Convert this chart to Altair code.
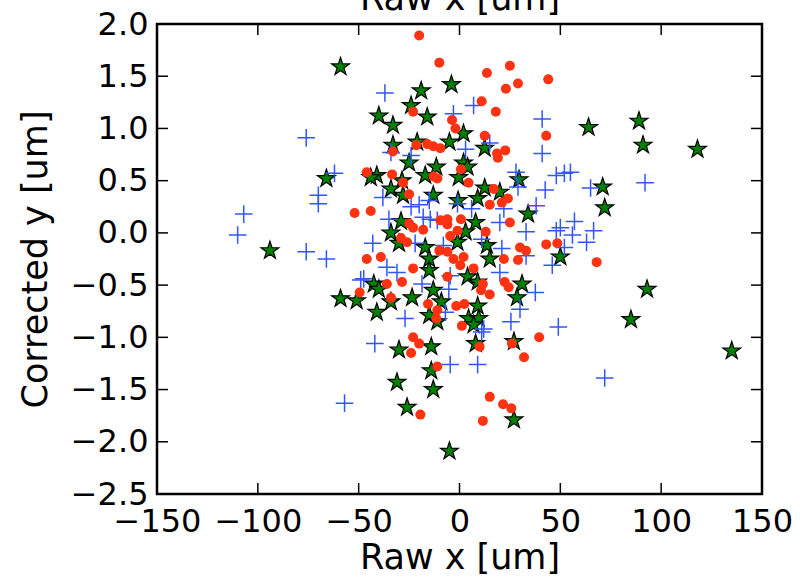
import altair as alt
import pandas as pd

# ---- data ----
star_x = [-59, -66, 64, 89, 91, 118, 71, 72, 50, 93, 85, 135, -94, -59, -51,
          -30, -14, 8, 27, -14, -31, -13, -26, 27, -5, -19, -4, -24, -40, -16,
          -33, 2, 12.5, -5, -21, -33, -25, -11.5, 2, 4, -41, -17, 29.5, -44, -28.5,
          -0.4, -34, -28, -13, -0.7, 9, 12.5, 20, 34, -29, 8, -34, -30, 3, -1,
          13.6, -17, -15, 15, -15, 4, -42.5, -40, 9, 31, 28.5, -34, -23.5, -13, -9,
          9, -41, -15, -11, 4.5, 9.5, 7]
star_y = [1.59, 0.52, 1.01, 1.07, 0.84, 0.80, 0.44, 0.24, -0.23, -0.54, -0.83, -1.13, -0.17, -0.63, -0.65,
          -1.12, -1.09, -1.06, -1.04, -1.32, -1.43, -1.50, -1.67, -1.79, -2.09, 1.36, 1.42, 1.22, 1.12, 1.11,
          1.03, 0.95, 0.81, 0.87, 0.87, 0.84, 0.67, 0.63, 0.67, 0.63, 0.55, 0.55, 0.51, 0.53, 0.50,
          0.53, 0.42, 0.36, 0.36, 0.31, 0.33, 0.43, 0.39, 0.18, 0.11, 0.10, 0.00, -0.10, 0.01, -0.09,
          -0.12, -0.14, -0.25, -0.25, -0.36, -0.42, -0.49, -0.54, -0.47, -0.49, -0.62, -0.66, -0.62, -0.55, -0.66,
          -0.70, -0.76, -0.79, -0.85, -0.82, -0.82, -0.88]

plus_x = [-76, -62, 52, 55, 92, 65, 57, 50, 56, 66.5, 63, 52, 49, 72, -70,
          -70, -107, -110, -76, -66, -49, -57, -42, -4.6, 9, 11, -37, -3, 7, 41,
          15, 3, -34, 41, -24, 28, 48, 29, 42.5, -38, -20, 38, -24, -15, 6,
          22, 20, 33, 48, -43, -35, -22, -18, -14.5, 11, 21, 33, -36, -47.5, -18.6,
          -4.6, 37.6, 46, -27, -7, 12, 25.5, 30, -1, -11, -5.3, 20, -31, -8]
plus_y = [0.91, 0.57, 0.57, 0.58, 0.48, 0.43, 0.11, 0.05, -0.02, 0.02, -0.09, -0.14, -0.90, -1.39, 0.36,
          0.28, 0.18, -0.02, -0.18, -0.25, -0.45, -1.63, -1.06, -1.26, -1.26, -0.95, 1.34, 1.14, 1.22, 1.09,
          0.86, 0.80, 0.77, 0.76, 0.74, 0.58, 0.55, 0.44, 0.41, 0.34, 0.27, 0.26, 0.25, 0.31, 0.23,
          0.23, 0.10, 0.01, 0.02, -0.10, 0.13, -0.10, 0.15, 0.13, -0.06, -0.15, -0.22, -0.33, -0.44, -0.49,
          -0.41, -0.57, -0.31, -0.82, -0.76, -0.92, -0.85, -0.73, 0.28, 0.12, -0.54, -0.38, -0.38, -0.12]

circ_x = [-52, -49.5, -23, -20, -24, 10, 26, 39.5, 32, -11, -19.4, 15, 21.6, 25.7, 11.6,
          -20, -10, 13.6, 25, 29, 23, 44, -23, 11, 18, -3.7, -2, 43, 12.5, -21.4,
          -16, -13, -9.5, -33, 18.6, 22.7, 19, 0.7, -46, -33.4, -12.8, -28, -11, 4.5, -25,
          17, 24, 21, 15, -44, -25, -23, -18, -9.5, -6, -6, 0.7, 13, 25, -29,
          -26, -4.6, -1, -10, -6, 30, 33, 43, 48.5, 22, 29, -46, -39, -3, 2,
          0.4, -23, 7, -6, -36, -28.5, 11.6, 10.7, 15, 22.4, 24.4, -34, -15.6, -11, -1.6,
          2.4, -11.5, 1.2, 68]
circ_y = [0.19, -0.57, -1.00, -1.06, -1.15, -1.09, -1.06, -1.00, -1.19, -1.28, -1.74, -1.57, -1.64, -1.68, -1.80,
          1.89, 1.63, 1.53, 1.60, 1.43, 1.38, 1.47, 1.16, 1.26, 1.16, 1.08, 1.00, 0.93, 0.93, 0.84,
          0.85, 0.83, 0.81, 0.78, 0.76, 0.79, 0.72, 0.61, 0.58, 0.56, 0.54, 0.48, 0.52, 0.48, 0.37,
          0.42, 0.33, 0.29, 0.27, 0.21, 0.09, 0.05, 0.03, 0.12, 0.13, 0.08, 0.13, 0.01, 0.10, -0.05,
          -0.09, -0.03, 0.02, -0.17, -0.18, -0.14, -0.17, -0.11, -0.10, -0.25, -0.26, -0.25, -0.23, -0.25, -0.23,
          -0.31, -0.34, -0.34, -0.42, -0.49, -0.47, -0.49, -0.55, -0.59, -0.47, -0.52, -0.62, -0.68, -0.74, -0.70,
          -0.68, -0.82, -0.89, -0.28]

x_ticks = [-150, -100, -50, 0, 50, 100, 150]
y_ticks = [-2.5, -2.0, -1.5, -1.0, -0.5, 0.0, 0.5, 1.0, 1.5, 2.0]

# ---- styling ----
W, H = 605, 470
FONT = "DejaVu Sans"
TICK_LEN = 11
STAR = ("M0,-1L0.2245,-0.309L0.9511,-0.309L0.3633,0.118L0.5878,0.809L0,0.382"
        "L-0.5878,0.809L-0.3633,0.118L-0.9511,-0.309L-0.2245,-0.309Z")
PLUS = "M-1,0L1,0M0,-1L0,1"

xscale = alt.Scale(domain=[-150, 150], nice=False, zero=False)
yscale = alt.Scale(domain=[-2.5, 2.0], nice=False, zero=False)

xaxis = alt.Axis(
    title="Raw x [um]", values=x_ticks, format="d",
    labelFont=FONT, labelFontSize=32, labelColor="black", labelPadding=27,
    labelBaseline="middle", labelFlush=False, labelOverlap=False,
    ticks=False, domain=False, grid=False,
    titleFont=FONT, titleFontSize=35, titleFontWeight="normal", titleColor="black",
    titleY=63, titleBaseline="middle",
)
yaxis = alt.Axis(
    title="Corrected y [um]", values=y_ticks, format=".1f",
    labelFont=FONT, labelFontSize=32, labelColor="black", labelPadding=9,
    labelAlign="right", labelBaseline="middle", labelFlush=False, labelOverlap=False,
    ticks=False, domain=False, grid=False,
    titleFont=FONT, titleFontSize=35, titleFontWeight="normal", titleColor="black",
    titleX=-122, titleY=H / 2, titleAngle=270, titleAlign="center", titleBaseline="middle",
)
top_axis = alt.Axis(
    orient="top", title="Raw x [um]", labels=False, ticks=False, domain=False, grid=False,
    titleFont=FONT, titleFontSize=35, titleFontWeight="normal", titleColor="black",
    titleY=-15, titleBaseline="alphabetic",
)

df_star = pd.DataFrame({"x": star_x, "y": star_y})
df_plus = pd.DataFrame({"x": plus_x, "y": plus_y})
df_circ = pd.DataFrame({"x": circ_x, "y": circ_y})
df_xt = pd.DataFrame({"v": x_ticks})
df_yt = pd.DataFrame({"v": y_ticks})

stars = alt.Chart(df_star).mark_point(
    shape=STAR, size=350, filled=True, fill="#008000", stroke="black",
    strokeWidth=1.2, opacity=1,
).encode(
    x=alt.X("x:Q", scale=xscale, axis=xaxis),
    y=alt.Y("y:Q", scale=yscale, axis=yaxis),
)

pluses = alt.Chart(df_plus).mark_point(
    shape=PLUS, size=310, filled=False, stroke="#3355ff", strokeWidth=1.5, opacity=1,
).encode(
    x=alt.X("x:Q", scale=xscale, axis=None),
    y=alt.Y("y:Q", scale=yscale, axis=None),
)

circles = alt.Chart(df_circ).mark_circle(size=100, color="#ff3311", opacity=1).encode(
    x=alt.X("x:Q", scale=xscale, axis=None),
    y=alt.Y("y:Q", scale=yscale, axis=None),
)

bottom_ticks = alt.Chart(df_xt).mark_rule(color="black", strokeWidth=1.5).encode(
    x=alt.X("v:Q", scale=xscale, axis=None),
    y=alt.value(H), y2=alt.value(H - TICK_LEN),
)
top_ticks = alt.Chart(df_xt).mark_rule(color="black", strokeWidth=1.5).encode(
    x=alt.X("v:Q", scale=xscale, axis=top_axis),
    y=alt.value(0), y2=alt.value(TICK_LEN),
)
left_ticks = alt.Chart(df_yt).mark_rule(color="black", strokeWidth=1.5).encode(
    y=alt.Y("v:Q", scale=yscale, axis=None),
    x=alt.value(0), x2=alt.value(TICK_LEN),
)
right_ticks = alt.Chart(df_yt).mark_rule(color="black", strokeWidth=1.5).encode(
    y=alt.Y("v:Q", scale=yscale, axis=None),
    x=alt.value(W), x2=alt.value(W - TICK_LEN),
)

chart = alt.layer(
    stars, pluses, circles, bottom_ticks, top_ticks, left_ticks, right_ticks
).resolve_axis(x="independent", y="independent").properties(
    width=W, height=H,
    autosize=alt.AutoSizeParams(type="none"),
    padding={"left": 157, "top": 24, "right": 38, "bottom": 86},
    background="white",
).configure_view(stroke="black", strokeWidth=2.5)

chart.save("out.html", embed_options={"renderer": "svg", "actions": False})
